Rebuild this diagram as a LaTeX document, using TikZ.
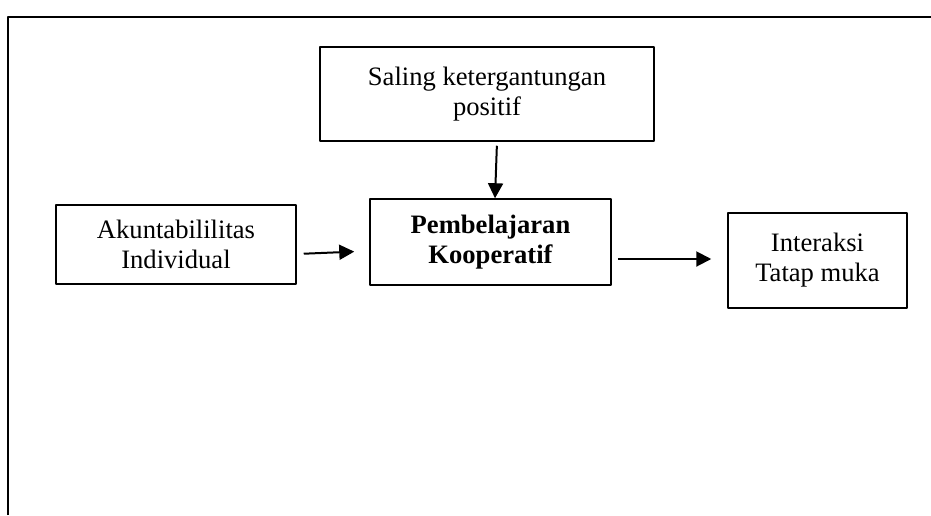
\documentclass[tikz,border=0pt]{standalone}
\usepackage{fontspec}
\setmainfont{Liberation Serif}
\usetikzlibrary{arrows.meta}
\tikzset{
	kotak/.style={draw,line width=0.75pt,align=center,inner sep=0pt,
		font=\fontsize{13.3}{15}\selectfont},
	panah/.style={line width=1pt,-{Triangle[length=7.5pt,width=7.5pt]}}
}
\begin{document}
\begin{tikzpicture}[x=0.5pt,y=-0.5pt,line join=round]
		%==Bingkai
		\useasboundingbox (0,0) rectangle (931,515);
		\draw[line width=1.1pt] (8,515)--(8,17)--(931,17);
		%==Kotak
		\node[kotak,minimum width=167pt,minimum height=47pt] (sal) at (487,94) {Saling ketergantungan\\positif};
		\node[kotak,minimum width=120pt,minimum height=39.5pt] (aku) at (176,244.5) {Akuntabililitas\\Individual};
		\node[kotak,minimum width=120.5pt,minimum height=43pt,font=\fontsize{13.3}{15}\selectfont\bfseries] (kop) at (490.5,242) {Pembelajaran\\Kooperatif};
		\node[kotak,minimum width=89.5pt,minimum height=47.5pt] (int) at (817.5,260.5) {Interaksi\\Tatap muka};
		%==Panah
		\draw[panah,shorten <=2pt] ([xshift=5pt]sal.south)--([xshift=2.25pt]kop.north);
		\draw[panah,shorten <=3.5pt,shorten >=7.5pt] ([yshift=-4.75pt]aku.east)--([yshift=-4.5pt]kop.west);
		\draw[panah,shorten <=3pt,shorten >=8pt] ([yshift=-8.5pt]kop.east)--([yshift=-8.5pt]kop.east-|int.west);
\end{tikzpicture}
\end{document}
